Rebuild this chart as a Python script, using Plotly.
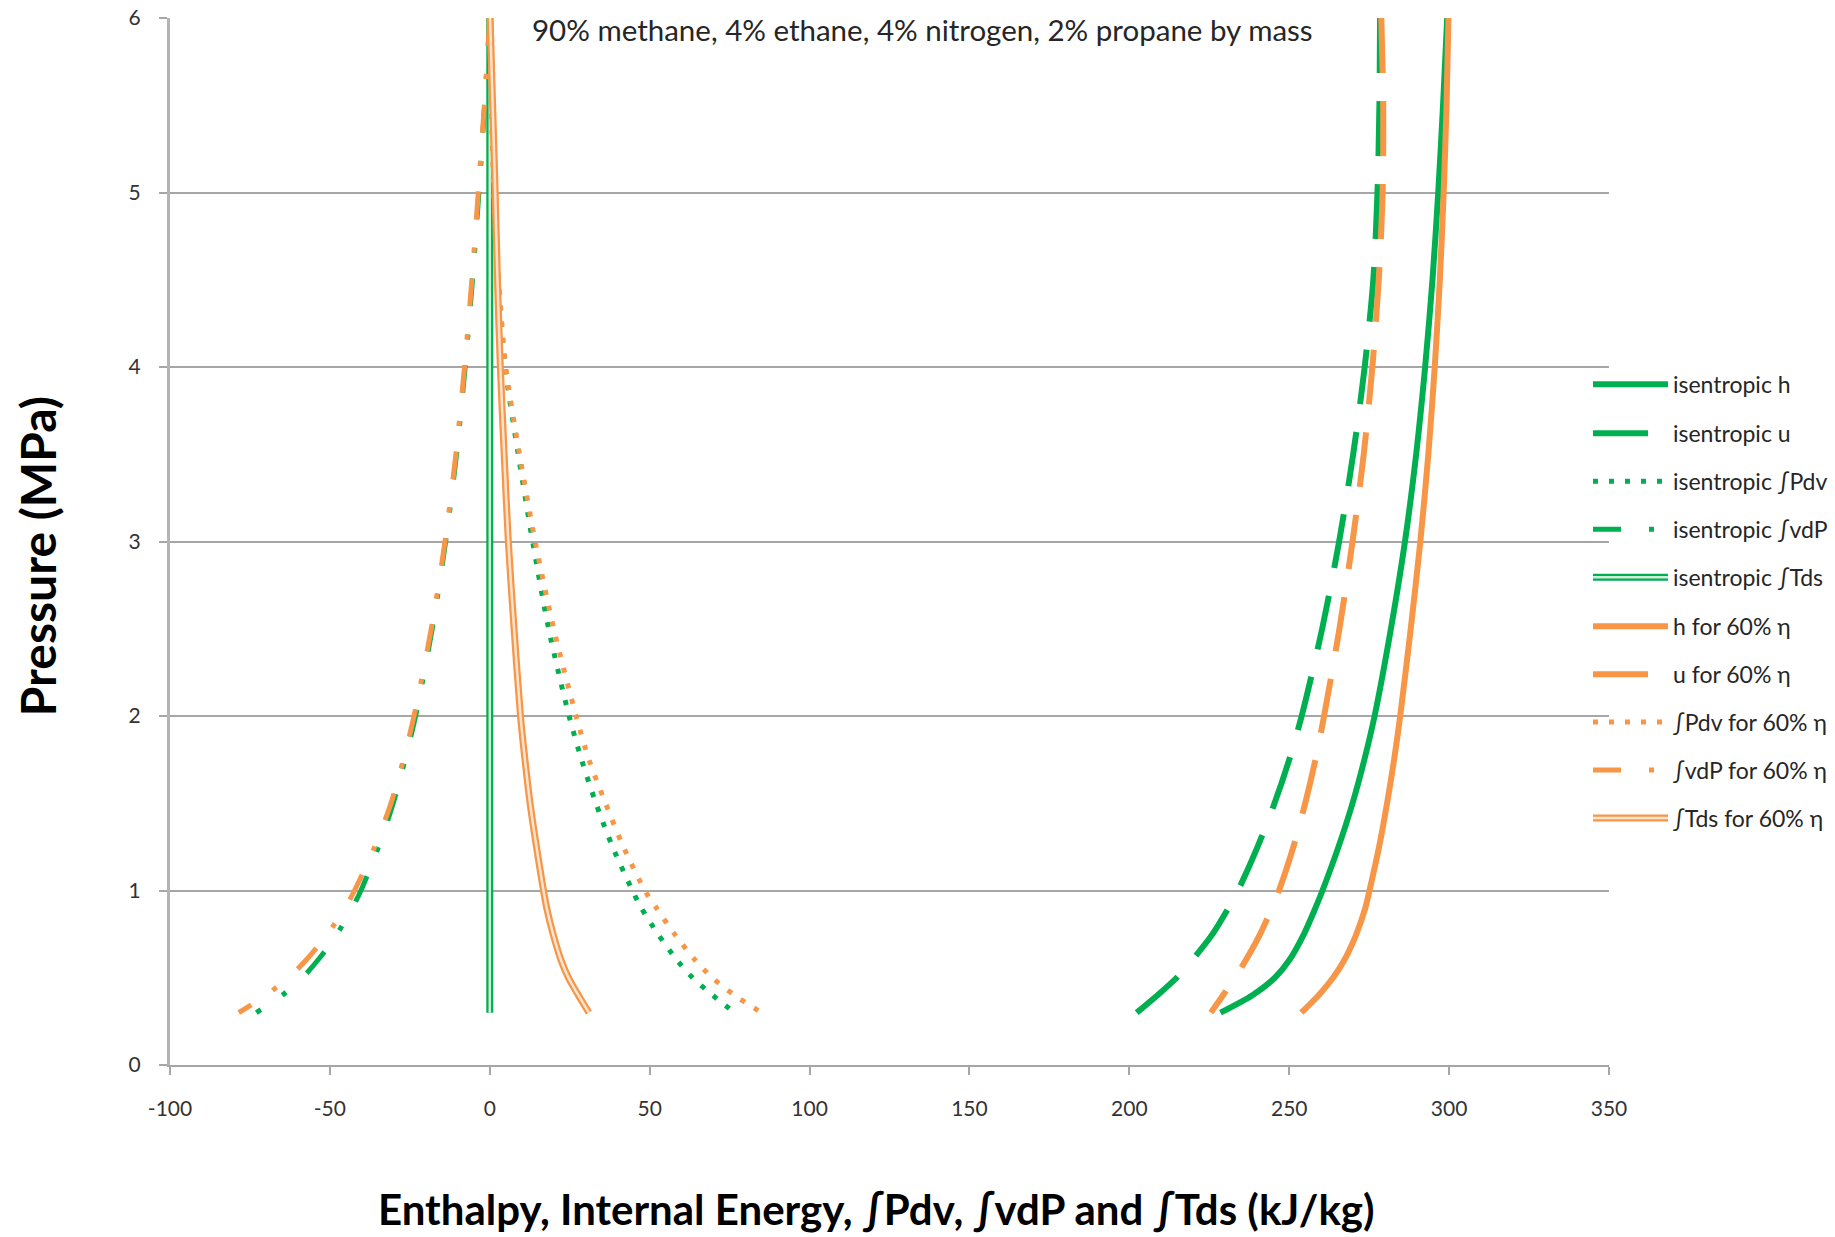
import plotly.graph_objects as go

# Pressure (MPa), ordered from high to low as in the source series
pressure = [6, 5.5, 5, 4.5, 4, 3.5, 3, 2.5, 2, 1.75, 1.5, 1.25, 1, 0.9, 0.75, 0.6, 0.5, 0.4, 0.3]

# isentropic series (kJ/kg)
iso_h   = [299.4, 298.1, 296.6, 294.8, 292.5, 289.7, 286.2, 281.8, 276.7, 273.5, 269.8, 265.4, 260.4, 258.2, 254.6, 250.0, 245.5, 238.5, 228.5]
iso_u   = [278.4, 278.2, 277.6, 276.3, 273.6, 270.0, 265.6, 260.3, 253.9, 250.0, 245.4, 240.1, 234.0, 231.0, 226.0, 219.6, 214.8, 208.8, 202.3]
iso_pdv = [0, 0.5, 1.2, 2.6, 4.8, 8.9, 13.4, 18.4, 24.8, 28.7, 33.2, 38.4, 44.6, 47.4, 52.6, 58.6, 63.4, 69.7, 76.5]
iso_vdp = [0, -1.6, -3.4, -5.4, -7.7, -10.4, -13.8, -18.0, -23.2, -26.5, -30.2, -34.8, -40.3, -43.0, -47.8, -53.8, -58.6, -64.9, -73.0]
iso_tds = [0, 0, 0, 0, 0, 0, 0, 0, 0, 0, 0, 0, 0, 0, 0, 0, 0, 0, 0]

# 60% efficiency series (kJ/kg)
eta_h   = [299.8, 299.2, 298.3, 297.1, 295.5, 293.5, 291.0, 288.0, 284.7, 282.8, 280.6, 278.1, 275.1, 273.8, 271.0, 267.2, 263.7, 259.2, 253.8]
eta_u   = [278.8, 279.4, 279.2, 278.0, 276.0, 273.3, 269.8, 265.7, 260.9, 258.2, 255.0, 251.3, 246.8, 244.6, 240.9, 236.4, 233.0, 229.3, 225.5]
eta_pdv = [0, 0.5, 1.3, 2.8, 5.0, 9.3, 14.2, 20.0, 27.0, 31.0, 36.2, 41.8, 48.5, 52.1, 57.8, 64.3, 69.6, 76.5, 85.0]
eta_vdp = [0, -1.7, -3.6, -5.6, -7.9, -10.6, -14.0, -18.3, -23.7, -27.0, -30.9, -36.0, -42.3, -45.2, -50.8, -57.5, -63.0, -70.0, -78.5]
eta_tds = [0.1, 0.9, 1.7, 2.4, 3.3, 4.5, 5.8, 7.6, 9.6, 11.0, 12.6, 14.6, 16.8, 17.8, 19.8, 22.3, 24.6, 27.7, 31.0]

names = ["isentropic h", "isentropic u", "isentropic ∫Pdv", "isentropic ∫vdP", "isentropic ∫Tds",
         "h for 60% η", "u for 60% η", "∫Pdv for 60% η", "∫vdP for 60% η", "∫Tds for 60% η"]

x_tickvals = [-100, -50, 0, 50, 100, 150, 200, 250, 300, 350]
x_ticktext = ["-100", "-50", "0", "50", "100", "150", "200", "250", "300", "350"]
y_tickvals = [0, 1, 2, 3, 4, 5, 6]

GREEN = "#00B050"
ORANGE = "#F79646"
GREEN_IN = "#cdeed8"
ORANGE_IN = "#fde4d0"
FONT = "Lato, 'DejaVu Sans Condensed', sans-serif"

# the page body margin is removed (see post_script), so the figure fills the window
W, H = 1835, 1237
PLOT_L, PLOT_R, PLOT_T, PLOT_B = 170, 1609, 17.5, 1065
ML, MT = PLOT_L, PLOT_T
MR, MB = W - PLOT_R, H - PLOT_B
PW, PH = PLOT_R - PLOT_L, PLOT_B - PLOT_T

def px_x(px):
    return (px - PLOT_L) / PW

def px_y(py):
    return (PLOT_B - py) / PH

# legend entry centres (px from top) and sample start
legend_rows = [384, 433, 481, 529, 577, 626, 674, 722, 770, 818]
legend_left = 1595 - 7

styles = {
    "h": dict(width=6, dash="solid"),
    "u": dict(width=6, dash="55px,28px"),
    "pdv": dict(width=5, dash="5px,11px"),
    "vdp": dict(width=5, dash="28px,28px,5px,26px"),
}

fig = go.Figure()
legend_defs = {}

def legend_key(i):
    return "legend" if i == 1 else f"legend{i}"

def make_legend(i, row_px, hidden_text=False):
    legend_defs[legend_key(i)] = dict(
        x=px_x(legend_left), y=px_y(row_px), xanchor="left", yanchor="middle",
        bgcolor="rgba(0,0,0,0)", borderwidth=0, itemwidth=75,
        font=dict(family=FONT, size=23, color="rgba(0,0,0,0)" if hidden_text else "#262626"),
        itemclick=False, itemdoubleclick=False,
    )

def add_series(idx, x, color, kind, inner=None):
    li = idx + 1
    make_legend(li, legend_rows[idx])
    if kind == "tds":
        fig.add_trace(go.Scatter(x=x, y=pressure, mode="lines", name=names[idx], legend=legend_key(li),
                                 line=dict(color=color, width=7, shape="spline", smoothing=0.8)))
        lj = 10 + (1 if color == GREEN else 2)
        make_legend(lj, legend_rows[idx], hidden_text=True)
        fig.add_trace(go.Scatter(x=x, y=pressure, mode="lines", name=names[idx], legend=legend_key(lj),
                                 hoverinfo="skip",
                                 line=dict(color=inner, width=2.5, shape="spline", smoothing=0.8)))
    else:
        st = styles[kind]
        fig.add_trace(go.Scatter(x=x, y=pressure, mode="lines", name=names[idx], legend=legend_key(li),
                                 line=dict(color=color, width=st["width"], dash=st["dash"],
                                           shape="spline", smoothing=0.8)))

add_series(0, iso_h, GREEN, "h")
add_series(1, iso_u, GREEN, "u")
add_series(2, iso_pdv, GREEN, "pdv")
add_series(3, iso_vdp, GREEN, "vdp")
add_series(4, iso_tds, GREEN, "tds", inner=GREEN_IN)
add_series(5, eta_h, ORANGE, "h")
add_series(6, eta_u, ORANGE, "u")
add_series(7, eta_pdv, ORANGE, "pdv")
add_series(8, eta_vdp, ORANGE, "vdp")
add_series(9, eta_tds, ORANGE, "tds", inner=ORANGE_IN)

AX = "#a6a6a6"
fig.update_layout(
    width=W, height=H,
    margin=dict(l=ML, r=MR, t=MT, b=MB, autoexpand=False),
    paper_bgcolor="white", plot_bgcolor="white",
    font=dict(family=FONT, size=21, color="#333333"),
    showlegend=True,
    xaxis=dict(range=[-100, 350], tickmode="array", tickvals=x_tickvals, ticktext=x_ticktext,
               showgrid=False, zeroline=False,
               showline=True, linecolor=AX, linewidth=2,
               ticks="outside", ticklen=8, tickcolor=AX, tickwidth=2,
               ticklabelstandoff=16, tickfont=dict(family=FONT, size=21, color="#333333")),
    yaxis=dict(range=[0, 6], tickmode="array", tickvals=y_tickvals,
               showgrid=True, gridcolor=AX, gridwidth=2, zeroline=False,
               showline=True, linecolor="#b4b4b4", linewidth=3,
               ticks="outside", ticklen=8, tickcolor=AX, tickwidth=2,
               ticklabeloverflow="allow",
               ticklabelstandoff=14, tickfont=dict(family=FONT, size=21, color="#333333")),
    annotations=[
        dict(text="90% methane, 4% ethane, 4% nitrogen, 2% propane by mass",
             xref="paper", yref="paper", x=px_x(922), y=px_y(29), xanchor="center", yanchor="middle",
             showarrow=False, font=dict(family=FONT, size=29.5, color="#262626")),
        dict(text="<b>Enthalpy, Internal Energy, ∫Pdv, ∫vdP and ∫Tds (kJ/kg)</b>",
             xref="paper", yref="paper", x=px_x(876), y=px_y(1209), xanchor="center", yanchor="middle",
             showarrow=False, font=dict(family=FONT, size=42, color="#000000")),
        dict(text="<b>Pressure (MPa)</b>", textangle=-90,
             xref="paper", yref="paper", x=px_x(37), y=px_y(556), xanchor="center", yanchor="middle",
             showarrow=False, font=dict(family=FONT, size=48, color="#000000")),
    ],
)
fig.update_layout(**legend_defs)

fig.write_html("out.html",
               config={"displayModeBar": False},
               post_script="document.body.style.margin='0';document.body.style.overflow='hidden';")
